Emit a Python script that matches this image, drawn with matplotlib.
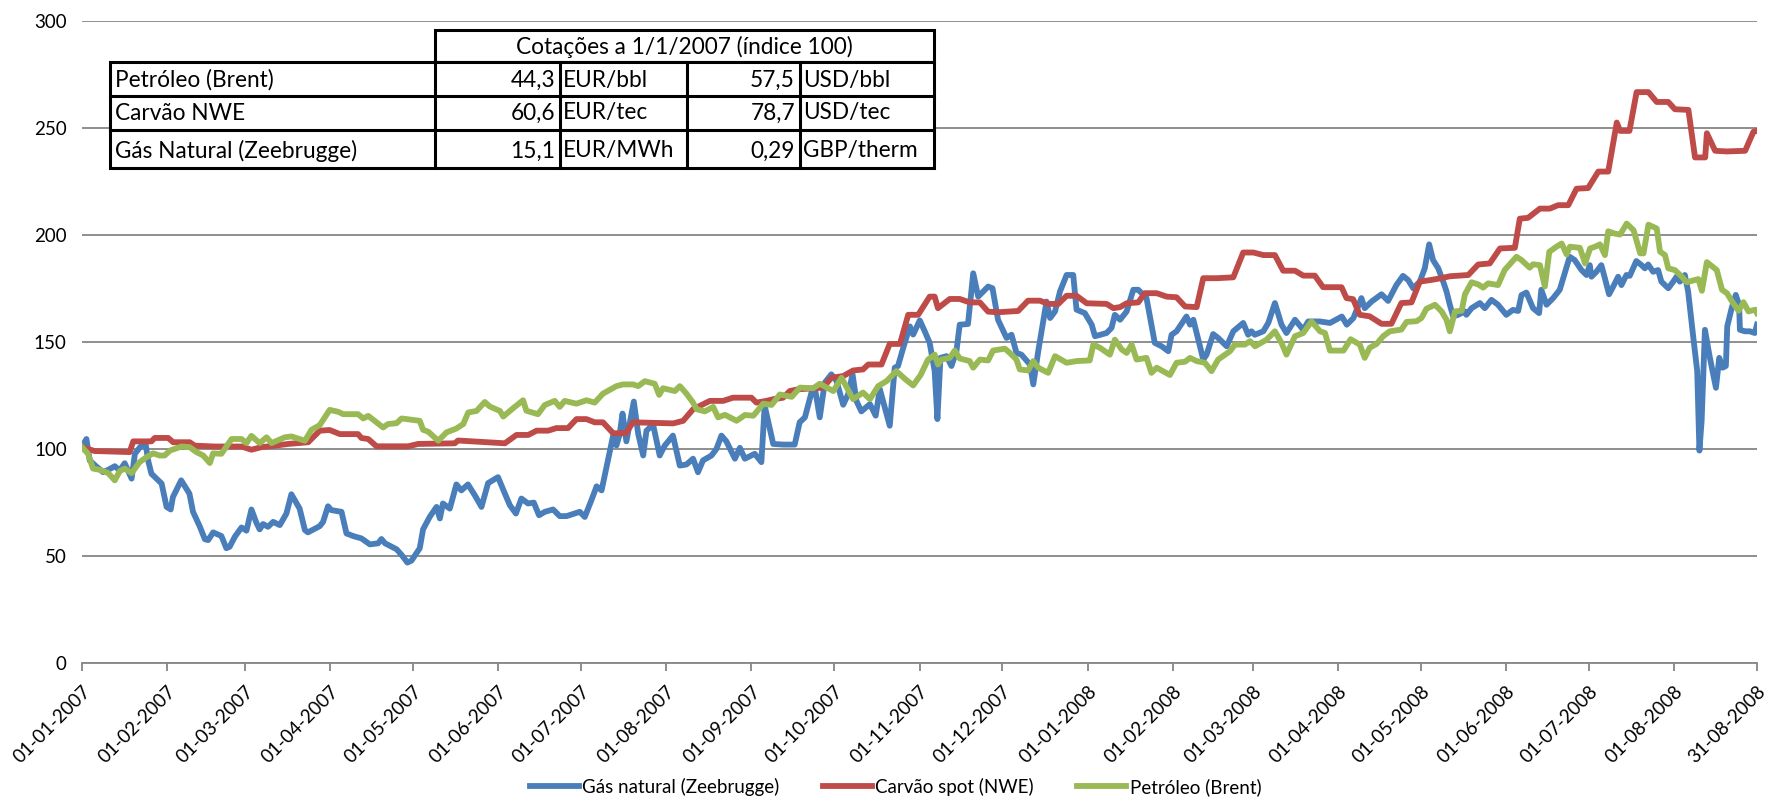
import numpy as np
import pandas as pd
import matplotlib
matplotlib.use('Agg')
import matplotlib.pyplot as plt
from matplotlib.patches import Rectangle

plt.rcParams['font.family'] = ['Lato', 'DejaVu Sans']

# dias contados a partir de 01-01-2007, valores em indice (1/1/2007 = 100)
inicio = pd.Timestamp('2007-01-01')
fim = pd.Timestamp('2008-08-31')

gas_dias = [0, 1.6, 2.8, 5, 7.7, 9.5, 11.9, 13.7, 15.5, 18, 19.2, 21, 23, 24, 25.2, 28.9, 30.7, 32.2, 33, 36,
            39, 40.3, 42.8, 44.6, 45.8, 47.6, 50.6, 52.4, 53.6, 55.5, 57.9, 59.7, 61.5, 63.3, 64.5, 65.7, 67.5,
            69.4, 71.8, 74.2, 76, 79, 80.9, 82, 86.3, 87.5, 89.3, 90.5, 94.2, 96, 98.4, 101.4, 104.5, 107.5,
            108.7, 110, 114.2, 116, 118.1, 119.6, 122.6, 123.8, 126.2, 128.7, 129.9, 131, 133.5, 135.9, 137.7,
            140.1, 142.6, 145, 147.4, 151, 153.5, 155.3, 157.5, 159.5, 161.9, 164, 165.9, 168, 171, 173.4,
            175.9, 180.7, 182.5, 184.9, 186.8, 188.6, 190.4, 192.8, 194, 195.2, 196.2, 197.6, 200.3, 201.9,
            203.7, 204.9, 207.3, 209.7, 211.5, 214.5, 217, 219.4, 221.8, 223.6, 225.4, 228.5, 230.3, 232.1,
            233.9, 237, 238.8, 240.6, 244.2, 246.6, 247.8, 250.9, 254.5, 258.7, 260.5, 262.4, 264.8, 266,
            267.8, 269.6, 272, 273.9, 276.3, 278.1, 279.7, 281.1, 282.9, 286, 288.1, 289.6, 293.2, 295, 296.2,
            298.1, 300.5, 301.7, 304.1, 305.9, 307.7, 309.5, 310.5, 311.6, 313.8, 315.6, 317.4, 318.6, 321.6,
            323.5, 325.3, 328.9, 330.5, 332.5, 335.6, 337.4, 339.2, 341, 344.1, 345.3, 347.1, 350.1, 351.4,
            353.2, 355, 357.4, 359.8, 361, 364, 366.5, 367.7, 371.9, 373.7, 374.9, 376.8, 379.2, 381.6, 383.4,
            386.4, 389.4, 391.9, 394.3, 395.5, 397.3, 400.9, 402.2, 403.4, 407, 408.2, 410.6, 412.4, 415.5,
            417.9, 421.5, 423.3, 424.5, 425.7, 428.8, 430.6, 433, 435.4, 437.2, 440.3, 443.3, 445.1, 449.4,
            453, 457.3, 459.1, 461.5, 463.2, 464.4, 465.6, 468.1, 471.7, 474.1, 477.1, 479.5, 481.4, 483.2,
            485.6, 487.4, 489, 490.4, 492.3, 494.1, 495.3, 496.5, 497.7, 499.5, 501.9, 502.5, 504.4, 507.4,
            509.2, 511.6, 514, 517, 519.4, 521.3, 522.5, 524.3, 526.7, 528.9, 529.7, 531.6, 534, 536.4, 538.2,
            540, 541.8, 544.3, 546.1, 547.3, 547.9, 549.7, 551.5, 552.8, 554.3, 555.8, 557.6, 558.8, 560.6,
            561.8, 564.2, 566.1, 567.3, 568.5, 570.3, 572.1, 573.3, 575.8, 577.6, 578.8, 580, 581.8, 583,
            584.9, 586.3, 587.1, 587.9, 589.1, 590.9, 593.1, 594.3, 595.5, 596.7, 597.2, 598.8, 600.3, 601.5,
            601.8, 603.6, 605.4, 607.2, 608]
gas_val = [101, 104.6, 94.6, 92, 89.1, 90.2, 91.9, 89.9, 93.3, 86.1, 97.7, 100.7, 103.1, 94.6, 88.4, 83.8, 72.9,
           71.7, 77.5, 85.3, 79.1, 70.6, 63.6, 57.8, 57.4, 61, 59.3, 53.6, 54.3, 59, 63.3, 61.8, 71.7, 65.5,
           62.4, 64.9, 63.6, 65.9, 64.4, 69.8, 78.8, 72.1, 62.1, 61, 63.9, 65.9, 73.2, 71.4, 70.6, 60.5, 59.3,
           58.2, 55.4, 55.9, 57.9, 55.9, 53.1, 50.5, 46.9, 47.8, 53.6, 62.4, 68.2, 72.9, 67.5, 74.5, 72.1, 83.4,
           80.6, 83.4, 78.3, 72.9, 84, 86.8, 79.1, 73.7, 69.8, 76.8, 74.5, 74.9, 69, 70.6, 71.7, 68.6, 68.6,
           70.6, 68.2, 76, 82.5, 80.6, 91.5, 106.2, 101.6, 107, 116.5, 103.5, 122.1, 107, 96.9, 108.5, 111.3,
           96.9, 101.5, 106.2, 92.2, 92.7, 95.4, 89.1, 94.6, 96.9, 100, 106.2, 103.5, 95.4, 100.5, 95.4, 97.7,
           93.8, 120.1, 102.3, 102, 102, 112.4, 114.7, 126.3, 128.6, 114.7, 130.9, 134.8, 131.7, 120.6, 125.5,
           134.8, 122.4, 117.5, 120.9, 115.5, 127.9, 110.8, 137.9, 138.7, 147.2, 157.2, 153.4, 160, 154.9,
           149.5, 136.3, 113.9, 142.5, 143.3, 138.7, 145.6, 158, 158.3, 182, 171.1, 175.8, 175, 160.3, 151.8,
           153.3, 144.8, 144, 139.4, 130.1, 145.6, 168.8, 161.1, 164.2, 173.5, 181.2, 181.2, 165, 163.4, 158,
           152.6, 154.1, 156.5, 162.6, 160.3, 164.2, 174.3, 174.3, 170.4, 149.5, 147.9, 145.6, 153.3, 154.9,
           161.8, 158, 160.3, 141.7, 144, 153.6, 151.8, 147.9, 154.9, 158.8, 153.3, 154.9, 153.3, 154.9, 158.8,
           168.1, 158, 154.1, 160.3, 155.6, 159.5, 159.5, 158.8, 161.8, 158, 161.1, 166.5, 170.4, 165.7, 168.8,
           172.2, 169.1, 176.5, 180.8, 178.8, 175, 178.1, 184.3, 195.5, 188.2, 184.3, 178.1, 173.5, 167.3,
           161.9, 162.6, 164.2, 162.6, 165.7, 168.1, 165.7, 169.6, 167.3, 162.6, 164.9, 164.4, 171.8, 173,
           165.7, 163.4, 174.3, 167.3, 170.4, 174.3, 182, 189.7, 188.2, 183.5, 181.2, 185.8, 180.4, 182.7,
           185.8, 179.6, 172.2, 175.8, 180.4, 176.5, 181.2, 180.8, 187.7, 185.8, 184.3, 186.1, 182.7, 183.5,
           178.1, 175, 178.1, 180.4, 178.1, 181.2, 173.5, 151.8, 136.3, 99.2, 113.1, 155.6, 142.5, 128.5,
           142.5, 137.9, 138.7, 157.2, 165.7, 171.9, 167.3, 155.6, 154.9, 154.9, 154.1, 158]

carvao_dias = [0, 4.6, 17.3, 18.6, 25.2, 26.4, 31.3, 33.1, 39.1, 40.9, 48.2, 57.9, 61.5, 65.1, 70, 74.8, 82.1,
               86.3, 89.9, 93.6, 100.2, 101.4, 103.9, 106.9, 118.4, 122, 135.3, 136.5, 153.5, 157.7, 162, 165,
               169.2, 172.2, 176.4, 179.5, 183.1, 186.1, 189.1, 192.8, 197.4, 200, 214.6, 218.2, 221.8, 227.9,
               232.7, 236.3, 243, 244.8, 248.4, 250.9, 254.5, 256.9, 259.9, 265.4, 269, 272, 276.3, 279.9, 283.5,
               285.4, 290.2, 293.2, 296.9, 299.9, 303.5, 307.7, 309.5, 310.7, 315, 318.6, 322.2, 325.9, 328.9,
               332.5, 339.8, 343.4, 347.7, 350.7, 354.4, 357.4, 361, 364.7, 371.9, 374.4, 376.8, 379.2, 383.4,
               385.8, 390.1, 393.7, 397.3, 400.4, 404.6, 407, 411.9, 417.9, 421.5, 425.2, 428.8, 433, 436, 440.3,
               443.3, 447.5, 450.5, 457.2, 459, 461.4, 463.8, 467.4, 471.7, 475.3, 478.9, 482.6, 485.6, 489.8,
               492.9, 496.5, 503.2, 506.8, 511, 514.7, 520.1, 521.9, 524.9, 529.2, 532.8, 535.8, 539.5, 542.5,
               546.7, 550.4, 554, 557.1, 558.3, 561.7, 564.3, 568.6, 571.6, 575.8, 578.2, 583.1, 585.5, 589.2,
               589.8, 592.8, 597, 603.7, 606.7, 608]
carvao_val = [100.8, 99, 98.5, 103.5, 103.5, 105.1, 105.1, 103.1, 103.1, 101.5, 101.1, 101.1, 99.6, 100.8, 101.5,
              102.3, 103.1, 108.5, 108.8, 106.9, 106.9, 105.1, 104.6, 101.2, 101.2, 102.3, 102.6, 103.9, 102.6,
              106.5, 106.5, 108.5, 108.5, 109.7, 109.7, 113.9, 113.9, 112.4, 112.4, 107.3, 107.3, 112.4, 111.9,
              113.1, 118.5, 122.4, 122.4, 123.9, 123.9, 121.6, 122.4, 123.2, 123.9, 127, 127.8, 128.3, 128.6,
              133.2, 134, 136.6, 137.1, 139.4, 139.4, 149, 149, 162.6, 162.6, 171.1, 171.1, 165.7, 170, 170,
              168.4, 168.4, 164.1, 163.8, 164.4, 169.2, 169.2, 167.7, 167.7, 171.5, 171.5, 168, 167.7, 165.7,
              166.2, 168, 168.4, 172.7, 172.7, 171.1, 170.8, 166.5, 166.2, 179.7, 179.7, 180.1, 191.7, 191.7,
              190.5, 190.5, 183.2, 183.2, 180.9, 180.9, 175.5, 175.5, 170.4, 169.9, 162.6, 161.9, 158.4, 158.4,
              168.1, 168.4, 178.1, 178.9, 179.6, 180.6, 181.2, 186.1, 186.6, 193.6, 193.9, 207.5, 207.9, 212.2,
              212.2, 213.8, 213.8, 221.5, 221.8, 229.5, 229.5, 252.4, 248.5, 248.5, 266.6, 266.6, 262, 262,
              258.6, 258.3, 236.1, 236.1, 247.4, 239.2, 238.9, 239.2, 248.1, 248.5]

petroleo_dias = [0, 2.2, 4, 6.5, 9.5, 11.9, 13.7, 15.5, 18, 20.9, 23.4, 25.8, 28.2, 30, 31.9, 36.1, 39.1, 41.5,
                 44, 46.4, 47.6, 50.6, 54.3, 57.9, 59.7, 61.5, 64.5, 67, 68.8, 73.6, 76, 80.9, 83.3, 86.3, 89.9,
                 93, 94.8, 100.2, 102.1, 103.9, 109.3, 111.1, 114.2, 116, 122.6, 123.8, 125.7, 129.3, 132.3,
                 135.9, 138.4, 140.2, 143.2, 146.2, 148, 151.7, 152.9, 156.5, 160.1, 161.3, 165.5, 168, 171.6,
                 173.4, 175.2, 179.5, 183.1, 186.1, 189.1, 194, 196.4, 200, 201.9, 204.3, 207.9, 209.5, 210.9,
                 215.2, 217, 219.4, 221.8, 223.1, 226.1, 229.1, 230.9, 233.4, 237.6, 240.6, 243.7, 247.3, 250.3,
                 253.3, 257.6, 260.6, 265.4, 267.8, 272.7, 275.7, 279.9, 283.5, 286, 289, 292, 295.6, 298.7,
                 301.7, 304.4, 307.1, 309.5, 310.7, 311.9, 315, 316.8, 318.6, 322.2, 323.5, 325.9, 328.9, 330.7,
                 335, 336.8, 339.2, 340.4, 343.4, 345.3, 347.1, 350.7, 353.2, 357.4, 361, 365.8, 367.1, 369.5,
                 373.1, 374.9, 377.4, 379.2, 381, 382.8, 386.4, 388.2, 390.1, 394.9, 397.3, 400.4, 402.2, 404.6,
                 407.6, 410, 412.4, 416.7, 418.5, 422.1, 424, 425.8, 430, 433, 435.4, 437.2, 440.3, 443.3, 446.3,
                 449.4, 451.2, 453, 457.9, 460.5, 463.8, 465.6, 467.4, 469.9, 472.3, 474.7, 478.9, 480.8, 484.4,
                 486.2, 488, 491.1, 493.5, 495.3, 496.5, 498.4, 500.8, 502, 504.4, 506.8, 508.6, 510.4, 514,
                 516.4, 520.7, 522.5, 525.5, 526.7, 529.2, 531, 532.6, 535.2, 537.1, 538.9, 540.1, 543.7, 545.6,
                 547.4, 549.2, 551, 552.8, 554, 556.5, 558.3, 560.7, 563.2, 565.6, 566.8, 568.6, 571.6, 572.8,
                 574.6, 575.8, 578.2, 580.7, 582.5, 586.7, 588, 589.8, 593.4, 595.3, 597.1, 598.9, 601.3, 603.1,
                 604.9, 607.4, 608]
petroleo_val = [100.8, 97.7, 90.8, 90.2, 88.7, 85.3, 89.6, 90.8, 88.7, 93.8, 96.1, 97.9, 96.9, 96.9, 99.2, 101.1,
                100.8, 98.5, 96.9, 93.4, 97.9, 97.7, 104.6, 104.6, 102.7, 106.1, 102.7, 105.4, 102.7, 105.4,
                105.8, 103.8, 108.9, 111.1, 118.2, 117.3, 116.2, 116.2, 114.2, 115.4, 110, 111.6, 112, 114.2,
                113.1, 108.9, 108, 103.8, 107.7, 109.5, 111.6, 117, 117.7, 121.9, 119.8, 117.7, 115.1, 119,
                122.7, 117.8, 116.2, 120.5, 122.4, 119.6, 122.4, 121.1, 122.7, 121.6, 125.8, 129.3, 130.1, 130.1,
                129.3, 131.6, 130.4, 125.2, 128.3, 127, 129.3, 125.8, 121.6, 118.5, 117.5, 119.6, 114.7, 115.9,
                113.1, 115.8, 115.5, 121.1, 120.5, 125.4, 124.3, 128.6, 128.3, 130.4, 127, 133.2, 123.2, 126.3,
                123.2, 129.3, 131.6, 136.3, 132.7, 129.6, 134.5, 141.7, 144, 139.4, 141.7, 142.5, 145.9, 142.2,
                141, 137.9, 141.7, 141.3, 145.9, 146.8, 144.8, 141.7, 137.1, 136.6, 141, 137.9, 135.5, 143.3,
                140.2, 141, 141.3, 148.7, 147.2, 144, 151, 146.4, 144.8, 148.7, 141.7, 142.5, 135.5, 137.9,
                134.5, 140.2, 140.7, 142.5, 141, 140.2, 136.3, 141.7, 145.6, 148.7, 148.7, 150.3, 147.9, 151,
                154.9, 149.5, 144, 152.6, 154.1, 159.5, 154.9, 154.1, 145.9, 145.9, 151.2, 148.7, 142.5, 147.2,
                149, 152.6, 154.9, 155.7, 159.3, 159.6, 161.1, 165.4, 167.3, 164.2, 160.3, 154.9, 164.2, 164.5,
                172.2, 177.8, 176.8, 175.3, 177.3, 176.5, 183.5, 189.7, 188.2, 184.6, 186.2, 185.8, 175.8, 192,
                194.4, 195.9, 190.8, 194.4, 193.9, 186.6, 193.6, 194.4, 195.5, 190.5, 201.6, 200.5, 200.1, 205.2,
                202.1, 191.3, 191.3, 204.7, 202.9, 192.1, 190.5, 184.3, 183.5, 180.4, 177.8, 179.3, 173.8, 187.2,
                183.5, 174.3, 172.7, 168.9, 164.5, 168.5, 164.2, 165, 163.4]

series = [
    ('Gás natural (Zeebrugge)', gas_dias, gas_val, '#4A7EBB'),
    ('Carvão spot (NWE)', carvao_dias, carvao_val, '#BE4B48'),
    ('Petróleo (Brent)', petroleo_dias, petroleo_val, '#98B954'),
]

# tabela de cotações
tabela_titulo = 'Cotações a 1/1/2007 (índice 100)'
tabela_nomes = ['Petróleo (Brent)', 'Carvão NWE', 'Gás Natural (Zeebrugge)']
tabela_eur = ['44,3', '60,6', '15,1']
tabela_eur_un = ['EUR/bbl', 'EUR/tec', 'EUR/MWh']
tabela_orig = ['57,5', '78,7', '0,29']
tabela_orig_un = ['USD/bbl', 'USD/tec', 'GBP/therm']

W, H = 1791, 798
fig = plt.figure(figsize=(W / 100, H / 100), dpi=100)
ax = fig.add_axes([82 / W, 1 - 663 / H, (1757 - 82) / W, (663 - 20.6) / H])

for nome, dias, val, cor in series:
    datas = inicio + pd.to_timedelta(np.array(dias), unit='D')
    ax.plot(datas, val, color=cor, lw=4.2, label=nome, solid_joinstyle='round')

ax.set_ylim(0, 300)
ax.set_xlim(inicio, fim)
ax.set_yticks(range(0, 301, 50))
ticks = list(pd.date_range('2007-01-01', '2008-08-01', freq='MS')) + [fim]
ax.set_xticks(ticks)
ax.set_xticklabels([t.strftime('%d-%m-%Y') for t in ticks], rotation=45, ha='right', va='top',
                   rotation_mode='anchor', fontsize=13.5)
ax.tick_params(axis='x', direction='out', length=6, width=1.3, color='#868686', pad=8)
ax.tick_params(axis='y', length=0, pad=11, labelsize=13.5)
ax.grid(axis='y', color='#868686', lw=1.3)
ax.set_axisbelow(True)
for s in ['top', 'right', 'left']:
    ax.spines[s].set_visible(False)
ax.spines['bottom'].set_color('#868686')
ax.spines['bottom'].set_linewidth(1.3)

fig.legend(loc='center', bbox_to_anchor=(0.5, 1 - 787 / H), ncol=3, frameon=False, fontsize=13.5,
           handlelength=2.6, handletextpad=0.2, columnspacing=2.3)

# tabela por cima do gráfico, em coordenadas de pixel
tab = fig.add_axes([0, 0, 1, 1], zorder=5)
tab.set_xlim(0, W)
tab.set_ylim(H, 0)
tab.axis('off')
lw = 2.2
fs = 16.3
cols = [110, 435, 560, 687, 800, 934]
linhas = [61.5, 96, 130, 168]
tab.add_patch(Rectangle((435, 30), 934 - 435, 61.5 - 30, facecolor='white', edgecolor='black', lw=lw))
tab.add_patch(Rectangle((110, 61.5), 934 - 110, 168 - 61.5, facecolor='white', edgecolor='black', lw=lw))
for y in linhas[1:-1]:
    tab.plot([110, 934], [y, y], color='black', lw=lw)
for x in cols[1:-1]:
    tab.plot([x, x], [61.5, 168], color='black', lw=lw)
tab.text((435 + 934) / 2, 47, tabela_titulo, ha='center', va='center', fontsize=fs)
centros = [80, 113, 151]
for i, yc in enumerate(centros):
    tab.text(cols[0] + 5, yc, tabela_nomes[i], ha='left', va='center', fontsize=fs)
    tab.text(cols[2] - 5, yc, tabela_eur[i], ha='right', va='center', fontsize=fs)
    tab.text(cols[2] + 3, yc, tabela_eur_un[i], ha='left', va='center', fontsize=fs)
    tab.text(cols[4] - 5, yc, tabela_orig[i], ha='right', va='center', fontsize=fs)
    tab.text(cols[4] + 3, yc, tabela_orig_un[i], ha='left', va='center', fontsize=fs)

fig.savefig('out.png', dpi=100)
